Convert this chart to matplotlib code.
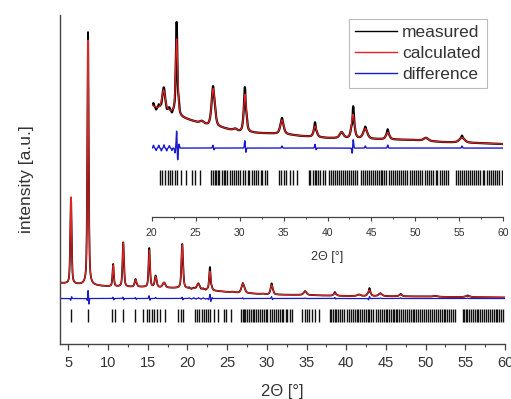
import numpy as np
import matplotlib
matplotlib.use('Agg')
import matplotlib.pyplot as plt
from matplotlib.ticker import MultipleLocator

plt.rcParams['font.family'] = ['Liberation Sans', 'DejaVu Sans']

# ---------------- data ----------------
bg_pos = [4, 5, 6, 8, 10, 12, 14, 16, 18, 20, 22, 23.5, 25, 26.5, 28, 29, 30, 32, 35, 37, 40, 45, 50, 53, 57, 60]
bg_val = [61, 60, 59.5, 58.5, 57.5, 57, 57, 56.5, 56, 55.5, 54.5, 53, 52, 51, 50.5, 50, 49.5, 49.25, 49, 48.5, 48, 47.75, 47.5, 47, 46.75, 46.5]

peak_pos = [5.33, 7.48, 10.65, 11.92, 13.48, 15.2, 16.0, 17.05, 19.35, 21.35, 22.84, 25.7, 27.0, 29.5,
            30.62, 34.82, 38.6, 41.6, 42.9, 44.3, 46.85, 51.2, 55.3]
peak_height = [87, 245, 21.5, 44, 7, 37, 10.5, 5, 43.5, 5.0, 19, 0.6, 9.5, 0.5,
               9.5, 3.5, 2.75, 1.5, 6.0, 2.5, 1.75, 0.75, 1.25]
peak_fwhm = [0.2, 0.2, 0.2, 0.22, 0.3, 0.22, 0.3, 0.4, 0.25, 0.45, 0.28, 0.5, 0.45, 0.5,
             0.35, 0.45, 0.4, 0.5, 0.4, 0.55, 0.45, 0.6, 0.7]

# measured - calculated features
wig_pos = [5.30, 5.40, 7.40, 7.49, 7.58, 10.62, 10.72, 11.88, 11.98, 13.45, 13.55, 15.17, 15.27, 16.0,
           19.32, 19.42, 20.2, 20.5, 20.8, 21.1, 21.4, 21.7, 22.0, 22.3, 22.65, 22.84, 22.95, 23.1,
           26.97, 27.07, 30.6, 30.7, 34.82, 38.58, 38.68, 42.82, 42.92, 44.3, 46.85, 55.3]
wig_amp = [-2, 2, -3, 10, -7, 1.5, -1.5, 1.5, -1.5, 1, -1, 3, -2, 1,
           1.5, -1.5, 0.7, -0.6, 0.7, -0.7, 0.8, -0.7, 0.6, -0.6, -1.2, 4.5, -3.25, 1.0,
           0.75, -0.5, 2, -1.25, 0.5, 1, -0.5, -1.5, 2.25, 0.5, 0.75, 0.5]
diff_offset = 45.5

refl_pos = [5.33, 7.51, 10.54, 10.88, 11.92, 13.40, 14.44, 14.87, 15.20, 15.50, 15.83, 16.17, 16.58, 17.17,
            18.85, 19.15, 19.48, 20.95, 21.20, 21.46, 21.80, 22.08, 22.36, 22.63, 22.84, 23.30, 23.90,
            24.60, 24.90, 25.50, 26.70, 26.95, 27.15, 27.30, 27.55, 27.70, 27.95, 28.20, 28.35, 28.60,
            28.90, 29.10, 29.35, 29.60, 29.85, 30.05, 30.35, 30.60, 30.90, 31.10, 31.40, 31.60, 31.85,
            32.10, 32.40, 32.60, 32.90, 33.15, 34.45, 34.75, 35.00, 35.30, 35.75, 36.05, 36.55,
            37.90, 38.05, 38.30, 38.55, 38.70, 38.95, 39.20, 39.45, 39.70, 40.15, 40.35, 40.60, 40.80,
            41.05, 41.30, 41.50, 41.75, 42.00, 42.20, 42.45, 42.70, 42.90, 43.15, 43.40, 43.80, 44.00,
            44.25, 44.50, 44.70, 44.95, 45.20, 45.45, 45.65, 45.85, 46.05, 46.25, 46.45, 46.70, 46.95,
            47.20, 47.40, 47.65, 47.90, 48.15, 48.40, 48.60, 48.85, 49.10, 49.35, 49.60, 49.80, 50.05,
            50.30, 50.55, 50.80, 51.05, 51.30, 51.55, 51.80, 52.05, 52.30, 52.50, 52.75, 53.00, 53.25,
            53.50, 53.75, 54.65, 54.85, 55.05, 55.25, 55.50, 55.70, 55.95, 56.20, 56.45, 56.65, 56.90,
            57.15, 57.40, 57.65, 57.85, 58.10, 58.35, 58.60, 58.85, 59.05, 59.30, 59.55, 59.80]

main_ticks = [5, 10, 15, 20, 25, 30, 35, 40, 45, 50, 55, 60]
inset_ticks = [20, 25, 30, 35, 40, 45, 50, 55, 60]

# ---------------- profiles ----------------
tt = np.arange(4.0, 60.0001, 0.01)
calc = np.interp(tt, bg_pos, bg_val)
for p, h, w in zip(peak_pos, peak_height, peak_fwhm):
    d = (tt - p) / w
    calc = calc + h * (0.5 / (1 + 4 * d ** 2) + 0.5 * np.exp(-4 * np.log(2) * d ** 2))
wig = np.zeros_like(tt)
for p, a in zip(wig_pos, wig_amp):
    wig = wig + a * np.exp(-0.5 * ((tt - p) / 0.05) ** 2)
meas = calc + wig
diff = diff_offset + wig

RED = '#e52222'
BLUE = '#1a1acc'
TXT = '#333333'

fig = plt.figure(figsize=(5.11, 3.99), dpi=100)

# ---------------- main axes ----------------
ax = fig.add_axes([60.4 / 511, 55 / 399, 444.6 / 511, 329 / 399])
ax.plot(tt, meas, color='black', lw=1.3)
ax.plot(tt, calc, color=RED, lw=0.9)
ax.plot(tt, diff, color=BLUE, lw=0.9)
ax.vlines(refl_pos, 22, 35, color='#111111', lw=1.0)
ax.set_xlim(4, 60)
ax.set_ylim(0, 329)
for s in ('top', 'right'):
    ax.spines[s].set_visible(False)
for s in ('left', 'bottom'):
    ax.spines[s].set_color('#444444')
    ax.spines[s].set_linewidth(1.0)
ax.set_yticks([])
ax.set_xticks(main_ticks)
ax.xaxis.set_minor_locator(MultipleLocator(2.5))
ax.tick_params(axis='x', which='major', direction='out', length=4, width=0.9,
               colors='#444444', labelcolor=TXT, labelsize=10.5, pad=4.5)
ax.tick_params(axis='x', which='minor', direction='out', length=2, width=0.8, colors='#444444')
ax.set_xlabel('2\u0398 [\u00b0]', fontsize=12, color=TXT, labelpad=10.5)
ax.set_ylabel('intensity [a.u.]', fontsize=12.5, color=TXT, labelpad=19)
ax.patch.set_alpha(0)

# ---------------- inset axes ----------------
ax2 = fig.add_axes([151.7 / 511, (399 - 217.3) / 399, 351.6 / 511, 217.3 / 399])
h1, = ax2.plot(tt, meas, color='black', lw=1.6)
h2, = ax2.plot(tt, calc, color=RED, lw=0.9)
h3, = ax2.plot(tt, diff, color=BLUE, lw=1.0)
sel = [r for r in refl_pos if r >= 20]
ax2.vlines(sel, 36.25, 40, color='#111111', lw=1.0)
ax2.set_xlim(20, 60)
ax2.set_ylim(28.2, 82.5)
for s in ('top', 'right', 'left'):
    ax2.spines[s].set_visible(False)
ax2.spines['bottom'].set_color('#444444')
ax2.spines['bottom'].set_linewidth(0.9)
ax2.set_yticks([])
ax2.set_xticks(inset_ticks)
ax2.xaxis.set_minor_locator(MultipleLocator(2.5))
ax2.tick_params(axis='x', which='major', direction='out', length=3, width=0.8,
                colors='#444444', labelcolor=TXT, labelsize=7.5, pad=4.5)
ax2.tick_params(axis='x', which='minor', direction='out', length=1.5, width=0.7, colors='#444444')
ax2.set_xlabel('2\u0398 [\u00b0]', fontsize=9, color=TXT, labelpad=9.5)
ax2.patch.set_alpha(0)

leg = fig.legend([h1, h2, h3], ['measured', 'calculated', 'difference'],
                 loc='upper right', bbox_to_anchor=(486.7 / 511, 380 / 399),
                 fontsize=12.5, frameon=True, fancybox=False, edgecolor='#aaaaaa',
                 handlelength=2.4, handletextpad=0.3, borderpad=0.35, labelspacing=0.32,
                 borderaxespad=0)
for line in leg.get_lines():
    line.set_linewidth(1.0)
for t in leg.get_texts():
    t.set_color(TXT)
leg.get_frame().set_linewidth(0.8)

fig.savefig('out.png', dpi=100)
